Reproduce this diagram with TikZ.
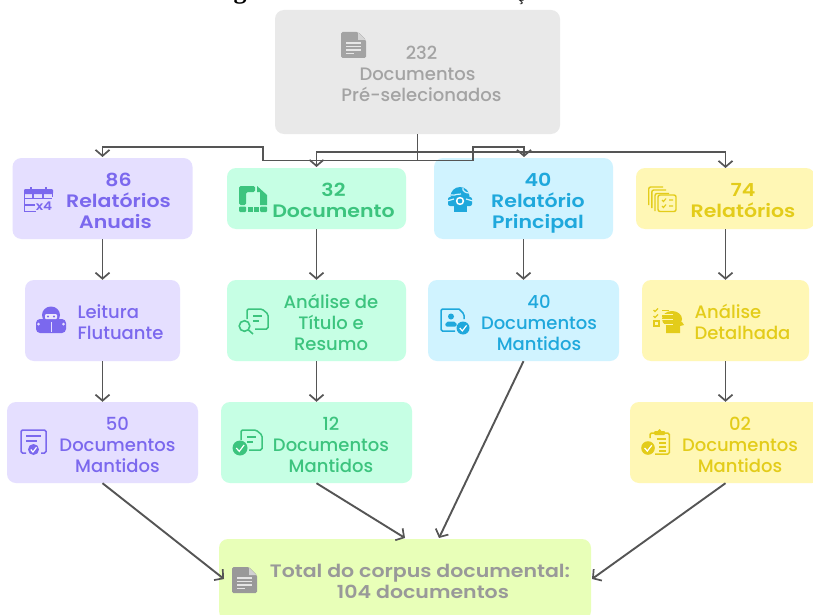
\documentclass[tikz,border=0pt]{standalone}
\usepackage{fontspec}
\setmainfont{Poppins}[UprightFont=* Medium,BoldFont=* SemiBold,BoldFeatures={FakeStretch=1.14}]
\newfontfamily\titlefont{Liberation Serif}
\usetikzlibrary{arrows.meta,calc}
\definecolor{cGrayF}{HTML}{E9E9E9}\definecolor{cGrayT}{HTML}{A3A3A3}
\definecolor{cPurF}{HTML}{E5DFFF}\definecolor{cPurT}{HTML}{7B68EE}
\definecolor{cGrnF}{HTML}{C6FFE4}\definecolor{cGrnT}{HTML}{3CC47E}
\definecolor{cBluF}{HTML}{D0F3FF}\definecolor{cBluT}{HTML}{1FA8DC}
\definecolor{cYelF}{HTML}{FFF7B5}\definecolor{cYelT}{HTML}{E3CC1A}
\definecolor{cLimF}{HTML}{E8FFB8}\definecolor{cLimT}{HTML}{999999}
\definecolor{cLine}{HTML}{555555}
\newcommand\bx[3][c]{\hspace*{#2}\raisebox{-4.5pt}[\height][\depth]{\begin{tabular}{@{}#1@{}}#3\end{tabular}}}
\tikzset{
 box/.style={rectangle,rounded corners=9pt,inner sep=0pt,font=\fontsize{18}{21}\selectfont,minimum width=#1},
 boldbox/.style={box=#1,font=\fontsize{18}{21}\selectfont\bfseries},
 conn/.style={draw=cLine,line width=1.9pt,-{Straight Barb[length=6pt,width=14pt,line width=1.7pt]}},
 bus/.style={draw=cLine,line width=1.7pt,-{Straight Barb[length=6pt,width=14pt,line width=1.7pt]}},
 ic/.style={line width=1.5pt,rounded corners=1.5pt},
}
\newcommand\docfilled[3]{\begin{scope}[shift={(#1,#2)}]
 \fill[#3,rounded corners=1.5pt] (0,0) -- (17,0) -- (25,8) -- (25,26) -- (0,26) -- cycle;
 \fill[white,opacity=.55] (17,0.5) -- (17,8) -- (24.5,8) -- cycle;
 \foreach \yy/\xx in {11/20,14.5/20,18/20,21.5/13}{\draw[white,opacity=.75,line width=1.2pt] (5,\yy) -- (\xx,\yy);}
 \end{scope}}
\newcommand\checkdot[4]{\fill[#4] (#1,#2) circle (#3);
 \draw[white,line width=1.2pt] ($(#1,#2)+(-.5*#3,0)$) -- ($(#1,#2)+(-.1*#3,.45*#3)$) -- ($(#1,#2)+(.55*#3,-.4*#3)$);}
\begin{document}
\begin{tikzpicture}[x=1pt,y=-1pt]
\useasboundingbox (0,0) rectangle (813,615);
\clip (0,0) rectangle (813,615);
\fill[white] (0,0) rectangle (813,615);
% clipped remains of the caption above
\node[anchor=base,inner sep=0pt,font=\titlefont\bfseries\fontsize{26}{26}\selectfont] (capg) at (240,-1) {g};
\node[anchor=base,inner sep=0pt,font=\titlefont\fontsize{15}{15}\selectfont] (capc) at (521,2) {ç};
% boxes
\node[box=285pt,minimum height=124pt,fill=cGrayF,text=cGrayT] (top) at (417.5,72) {\bx{8pt}{232\\\hspace*{-8pt}Documentos\\Pré-selecionados}};
\node[boldbox=180pt,minimum height=81pt,fill=cPurF,text=cPurT] (a1) at (102.5,198.5) {\bx{32pt}{86\\Relatórios\\\hspace*{-6pt}Anuais}};
\node[box=155pt,minimum height=81pt,fill=cPurF,text=cPurT] (a2) at (102.5,320.5) {\bx[l]{36pt}{Leitura\\Flutuante}};
\node[box=191pt,minimum height=81pt,fill=cPurF,text=cPurT] (a3) at (102.5,442.5) {\bx{30pt}{50\\Documentos\\Mantidos}};
\node[boldbox=179pt,minimum height=61pt,fill=cGrnF,text=cGrnT] (b1) at (316.5,198.5) {\bx{34pt}{32\\Documento}};
\node[box=179pt,minimum height=81pt,fill=cGrnF,text=cGrnT] (b2) at (316.5,320.5) {\bx{29pt}{Análise de\\Título e\\Resumo}};
\node[box=191pt,minimum height=81pt,fill=cGrnF,text=cGrnT] (b3) at (316.5,442.5) {\bx{29pt}{12\\Documentos\\Mantidos}};
\node[boldbox=179pt,minimum height=81pt,fill=cBluF,text=cBluT] (c1) at (523.5,198.5) {\bx{29pt}{40\\Relatório\\Principal}};
\node[box=191pt,minimum height=81pt,fill=cBluF,text=cBluT] (c2) at (523.5,320.5) {\bx{31pt}{40\\Documentos\\Mantidos}};
\node[boldbox=179pt,minimum height=61pt,fill=cYelF,text=cYelT] (d1) at (725.5,198.5) {\bx{35pt}{74\\Relatórios}};
\node[box=167pt,minimum height=81pt,fill=cYelF,text=cYelT] (d2) at (725.5,320.5) {\bx[l]{34pt}{Análise\\Detalhada}};
\node[box=191pt,minimum height=81pt,fill=cYelF,text=cYelT] (d3) at (725.5,442.5) {\bx{29pt}{02\\Documentos\\Mantidos}};
\node[boldbox=372pt,minimum height=81pt,fill=cLimF,text=cLimT] (e) at (405,579.5) {\bx{30pt}{Total do corpus documental:\\\hspace*{6pt}104 documentos}};
% connectors
\coordinate (ej1) at (224,579);\coordinate (ej2) at (405,538);\coordinate (ej3) at (439,538);\coordinate (ej4) at (592,579);
\coordinate (ta1) at (102.5,157);\coordinate (tb1) at (316.5,167);\coordinate (tc1) at (524,157);\coordinate (td1) at (725.5,168);
\draw[bus] (top.south) -- (417.5,160.5) -- (263,160.5) -- (263,147) -- (102.5,147) -- (ta1);
\draw[bus] (top.south) -- (417.5,151.7) -- (316.5,151.7) -- (tb1);
\draw[bus] (top.south) -- (417.5,160.5) -- (473,160.5) -- (473,147) -- (524,147) -- (tc1);
\draw[bus] (top.south) -- (417.5,151.7) -- (725.5,151.7) -- (td1);
\foreach \p/\q in {a1/a2,a2/a3,b1/b2,b2/b3,c1/c2,d1/d2,d2/d3}{\draw[conn] (\p.south) -- (\q.north);}
\draw[conn] (a3.south) -- (ej1);
\draw[conn] (b3.south) -- (ej2);
\draw[conn] (c2.south) -- (ej3);
\draw[conn] (d3.south) -- (ej4);
% icons
\docfilled{341}{32}{cGrayT}
\docfilled{232}{567}{cLimT}
% calendar
\begin{scope}[shift={(24,186)},cPurT]
 \fill[rounded corners=1pt] (0,3) rectangle (29,8);
 \fill (6,1) rectangle (8,4);\fill (21,1) rectangle (23,4);
 \draw[line width=1.4pt] (0.7,6) -- (0.7,25.3) -- (12,25.3);
 \draw[line width=1.4pt] (28.3,6) -- (28.3,11);
 \draw[line width=1.2pt] (1,12.5) -- (28,12.5) (1,19) -- (11,19) (9,8) -- (9,12) (19,8) -- (19,12);
 \node[inner sep=0pt,font=\fontsize{12}{12}\selectfont\bfseries] (cal) at (20,20) {x4};
\end{scope}
% reader
\begin{scope}[shift={(36,307)},cPurT]
 \fill (15,8) ellipse (9 and 8.5);
 \fill[rounded corners=4pt] (0,12) rectangle (30,26);
 \fill[white,opacity=.85,rounded corners=1pt] (9,7) rectangle (21,12);
 \fill[cPurT] (12,9.5) circle (1.1) (18,9.5) circle (1.1);
 \draw[cPurF,line width=1pt] (15,15) -- (15,25);
 \fill[cPurF] (2.5,17) circle (1.5) (27.5,17) circle (1.5);
\end{scope}
% doc check outline
\begin{scope}[shift={(20,429)},cPurT]
 \draw[ic] (1,19) -- (1,1) -- (26,1) -- (26,24) -- (21,24);
 \draw[ic] (1,19) -- (1,24) -- (6,24);
 \draw[line width=1.4pt] (6,7) -- (21,7) (6,12) -- (17,12);
 \checkdot{13.5}{20.5}{5.5}{cPurT}
\end{scope}
% split doc
\begin{scope}[shift={(239,186)},cGrnT]
 \fill[rounded corners=1.5pt] (0,0) -- (16,0) -- (16,6) -- (7,6) -- (7,19) -- (0,19) -- cycle;
 \fill (18,0) -- (28,9) -- (28,19) -- (21,19) -- (21,6) -- (18,6) -- cycle;
 \fill[rounded corners=1pt] (0,20.5) rectangle (7,26);
 \fill (9,20.5) rectangle (13.5,26);\fill (15,20.5) rectangle (19.5,26);
 \fill[rounded corners=1pt] (21,20.5) rectangle (28,26);
\end{scope}
% doc search
\begin{scope}[shift={(238,308)},cGrnT]
 \draw[ic] (9,11) -- (9,1) -- (24,1) -- (30,6) -- (30,21) -- (17,21);
 \draw[line width=1.4pt] (15,8) -- (24,8) (15,13) -- (21,13);
 \draw[line width=1.6pt] (6.5,18) circle (5.3) (10.5,22) -- (15,26);
\end{scope}
% doc check green
\begin{scope}[shift={(232,429)},cGrnT]
 \draw[ic] (9,11) -- (9,1) -- (24,1) -- (30,6) -- (30,21) -- (17,21);
 \draw[line width=1.4pt] (15,8) -- (24,8) (15,13) -- (21,13);
 \checkdot{8}{19}{7.5}{cGrnT}
\end{scope}
% globe head
\begin{scope}[shift={(447,187)},cBluT]
 \fill (13,9.5) circle (9.5);
 \fill[rounded corners=2pt] (1,10) rectangle (25,19);
 \fill (7,17) rectangle (20,25);
 \fill[white] (13,14) circle (4.2);
 \fill[cBluT] (13,14) circle (2.4);
 \draw[cBluF,line width=1.2pt] (4,8) .. controls (9,9) and (10,6) .. (14,7) (16,1) .. controls (15,4) and (19,6) .. (22,6) (0,14) -- (7,12) (19,12) -- (26,14);
\end{scope}
% user doc check
\begin{scope}[shift={(440,308)},cBluT]
 \draw[ic] (19,1) -- (1,1) -- (1,23) -- (15,23) (19,1) -- (24,6) -- (24,11);
 \fill (11,8.5) circle (3);
 \fill[rounded corners=2pt] (5,18.5) -- (6,13.5) -- (16,13.5) -- (17,18.5) -- cycle;
 \checkdot{23}{20}{6.5}{cBluT}
\end{scope}
% layers check
\begin{scope}[shift={(648,186)},cYelT,line width=1.4pt]
 \draw[rounded corners=2pt] (0.7,19) -- (0.7,1) -- (15,1);
 \draw[rounded corners=2pt] (3.8,22) -- (3.8,4) -- (18,4);
 \draw[rounded corners=2pt] (7,25) -- (7,7.5) -- (21,7.5);
 \draw[rounded corners=2pt,fill=cYelF] (10,9) rectangle (28,25.5);
 \draw[line width=1.1pt] (14,14) -- (15.5,15.5) -- (18,12.5) (21,14) -- (25,14) (14,20) -- (15.5,21.5) -- (18,18.5) (21,20) -- (25,20);
\end{scope}
% list head
\begin{scope}[shift={(653,307)},cYelT]
 \fill (19,12) ellipse (10 and 8);
 \fill (29,15) -- (31,18) -- (27,19) -- (27,26) -- (13,26) -- (13,18) -- cycle;
 \draw[cYelF,line width=1.2pt] (9,7.5) -- (20,7.5) (9,12.5) -- (20,12.5) (9,17.5) -- (20,17.5);
 \draw[line width=1.2pt] (9,3.5) -- (16,3.5) (9,9) -- (17,9) (10,15) -- (17,15);
 \draw[line width=1.1pt] (0.5,3) -- (2,4.5) -- (5,1.5) (0.5,9) -- (2,10.5) -- (5,7.5);
 \draw[line width=1.3pt] (1,14) rectangle (6,19);
\end{scope}
% clipboard check
\begin{scope}[shift={(641,429)},cYelT]
 \draw[ic] (9,9) -- (9,4) -- (28.3,4) -- (28.3,25) -- (14,25);
 \fill[rounded corners=1pt] (13,2) rectangle (24,6);\fill (18.5,1.7) circle (1.7);
 \draw[line width=1.2pt] (16,10) -- (25,10) (18,14) -- (25,14) (18,18) -- (25,18) (18,22) -- (25,22);
 \checkdot{7}{19}{6.8}{cYelT}
\end{scope}
\end{tikzpicture}
\end{document}
